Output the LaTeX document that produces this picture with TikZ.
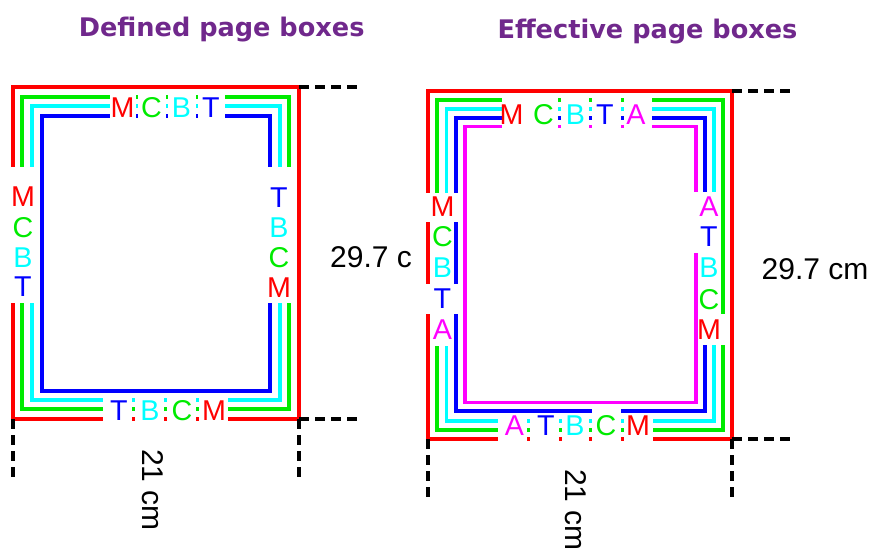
\documentclass[tikz,border=0pt]{standalone}
\usepackage{fontspec}
\setmainfont{Liberation Sans}
\newfontfamily\titlefont{DejaVu Sans}
\definecolor{pgred}{RGB}{255,0,0}
\definecolor{pggreen}{RGB}{0,235,0}
\definecolor{pgcyan}{RGB}{0,255,255}
\definecolor{pgblue}{RGB}{0,0,255}
\definecolor{pgmag}{RGB}{255,0,255}
\definecolor{titlepurple}{RGB}{112,40,140}
\begin{document}
\begin{tikzpicture}[x=0.75pt,y=-0.75pt,
  boxline/.style={line width=2.6pt},
  dimline/.style={line width=2.5pt, black, dash pattern=on 7.5pt off 4.5pt},
  letter/.style={inner sep=0pt, anchor=center, font=\fontsize{21.5pt}{25pt}\selectfont},
  dimtext/.style={inner sep=0pt, anchor=center, font=\fontsize{22.5pt}{26pt}\selectfont, text=black},
  title/.style={inner sep=0pt, anchor=base, font=\titlefont\bfseries\fontsize{19.2pt}{22pt}\selectfont, text=titlepurple},
  mask/.style={fill=white}]
\clip (0,0) rectangle (872,550);
\fill[white] (0,0) rectangle (872,550);

% ---------------- titles
\node[title] (t1) at (221.7,36.7) {Defined page boxes};
\node[title] (t2) at (647.5,38.3) {Effective page boxes};

% ---------------- left diagram: boxes
\draw[boxline,pgred]   (13,87)  rectangle (299,419);
\draw[boxline,pggreen] (22,97)  rectangle (289,409);
\draw[boxline,pgcyan]  (32,106) rectangle (280,400);
\draw[boxline,pgblue]  (42,116) rectangle (270,391);

% masks behind labels
\fill[mask] (110,92) rectangle (135.5,120);
\fill[mask] (137.5,92) rectangle (165.5,120);
\fill[mask] (167.5,92) rectangle (195.5,120);
\fill[mask] (197.5,92) rectangle (225,120);
\fill[mask] (9,167) rectangle (36,303);
\fill[mask] (266,167) rectangle (292,303);
\fill[mask] (103,395) rectangle (131.5,423);
\fill[mask] (134.5,395) rectangle (163.5,423);
\fill[mask] (166.5,395) rectangle (195.5,423);
\fill[mask] (198.5,395) rectangle (228,423);

% top letters
\node[letter,text=pgred]   (lt1) at (122.5,108) {M};
\node[letter,text=pggreen] (lt2) at (151.5,108) {C};
\node[letter,text=pgcyan]  (lt3) at (181.5,108) {B};
\node[letter,text=pgblue]  (lt4) at (211,108)   {T};
% left letters
\node[letter,text=pgred]   (ll1) at (23,197) {M};
\node[letter,text=pggreen] (ll2) at (23,228) {C};
\node[letter,text=pgcyan]  (ll3) at (23,258) {B};
\node[letter,text=pgblue]  (ll4) at (23,287) {T};
% right letters
\node[letter,text=pgblue]  (lr1) at (279,198) {T};
\node[letter,text=pgcyan]  (lr2) at (279,228) {B};
\node[letter,text=pggreen] (lr3) at (279,258) {C};
\node[letter,text=pgred]   (lr4) at (279,288) {M};
% bottom letters
\node[letter,text=pgblue]  (lb1) at (119,411) {T};
\node[letter,text=pgcyan]  (lb2) at (150,411) {B};
\node[letter,text=pggreen] (lb3) at (182,411) {C};
\node[letter,text=pgred]   (lb4) at (214,411) {M};

% dimension lines left
\coordinate (Ltr) at (299,87);
\coordinate (Lbr) at (299,419);
\coordinate (Lbl) at (13,419);
\coordinate (LtrE) at (360,87);
\coordinate (LbrE) at (360,419);
\coordinate (LblD) at (13,480);
\coordinate (LbrD) at (299,480);
\draw[dimline] (Ltr) -- (LtrE);
\draw[dimline] (Lbr) -- (LbrE);
\draw[dimline] (Lbl) -- (LblD);
\draw[dimline] (Lbr) -- (LbrD);
\node[dimtext] (lh) at (371,257.5) {29.7 c};
\node[dimtext,rotate=-90] (lw) at (152.5,490) {21 cm};

% ---------------- right diagram: boxes
\draw[boxline,pgred]   (428,91)    rectangle (732,439);
\draw[boxline,pggreen] (437,100)   rectangle (723,430);
\draw[boxline,pgcyan]  (446.5,109) rectangle (714,421);
\draw[boxline,pgblue]  (456,118)   rectangle (705,411);
\draw[boxline,pgmag]   (465,126.5) rectangle (696,402.5);

% masks top
\fill[mask] (501.5,96.5) rectangle (557.5,130);
\fill[mask] (560.5,96.5) rectangle (588.5,130);
\fill[mask] (591.5,96.5) rectangle (620.5,130);
\fill[mask] (623.5,96.5) rectangle (652,130);
% masks left
\fill[mask] (426,193) rectangle (459.5,222);
\fill[mask] (431,222) rectangle (454,253);
\fill[mask] (431,253) rectangle (454,284);
\fill[mask] (426,284) rectangle (459.5,314);
\fill[mask] (431,314) rectangle (454,346);
% masks right
\fill[mask] (693,192) rectangle (720.5,222);
\fill[mask] (693,222) rectangle (720.5,253);
\fill[mask] (699,253) rectangle (720.5,284);
\fill[mask] (699,284) rectangle (720.5,314);
\fill[mask] (699,314) rectangle (726,345);
% masks bottom
\fill[mask] (498,413) rectangle (526.5,443);
\fill[mask] (529.5,413) rectangle (558.5,443);
\fill[mask] (561.5,413) rectangle (588.5,443);
\fill[mask] (591.5,407) rectangle (620.5,443);
\fill[mask] (623.5,413) rectangle (653,443);

% top letters
\node[letter,text=pgred]   (rt1) at (511.5,115) {M};
\node[letter,text=pggreen] (rt2) at (543.5,115) {C};
\node[letter,text=pgcyan]  (rt3) at (575.5,115) {B};
\node[letter,text=pgblue]  (rt4) at (605,115)   {T};
\node[letter,text=pgmag]   (rt5) at (636,115)   {A};
% left letters
\node[letter,text=pgred]   (rl1) at (442.5,207) {M};
\node[letter,text=pggreen] (rl2) at (442.5,237) {C};
\node[letter,text=pgcyan]  (rl3) at (442.5,268) {B};
\node[letter,text=pgblue]  (rl4) at (442.5,299) {T};
\node[letter,text=pgmag]   (rl5) at (442.5,330) {A};
% right letters
\node[letter,text=pgmag]   (rr1) at (709,207) {A};
\node[letter,text=pgblue]  (rr2) at (709,237) {T};
\node[letter,text=pgcyan]  (rr3) at (709,268) {B};
\node[letter,text=pggreen] (rr4) at (709,300) {C};
\node[letter,text=pgred]   (rr5) at (709,330) {M};
% bottom letters
\node[letter,text=pgmag]   (rb1) at (514.5,426) {A};
\node[letter,text=pgblue]  (rb2) at (546,426)   {T};
\node[letter,text=pgcyan]  (rb3) at (575,426)   {B};
\node[letter,text=pggreen] (rb4) at (606,426)   {C};
\node[letter,text=pgred]   (rb5) at (638,426)   {M};

% dimension lines right
\coordinate (Rtr) at (732,91);
\coordinate (Rbr) at (732,439);
\coordinate (Rbl) at (428,439);
\coordinate (RtrE) at (795,91);
\coordinate (RbrE) at (795,439);
\coordinate (RblD) at (428,500);
\coordinate (RbrD) at (732,500);
\draw[dimline] (Rtr) -- (RtrE);
\draw[dimline] (Rbr) -- (RbrE);
\draw[dimline] (Rbl) -- (RblD);
\draw[dimline] (Rbr) -- (RbrD);
\node[dimtext] (rh) at (815,269.5) {29.7 cm};
\node[dimtext,rotate=-90] (rw) at (575.5,510) {21 cm};
\end{tikzpicture}
\end{document}
